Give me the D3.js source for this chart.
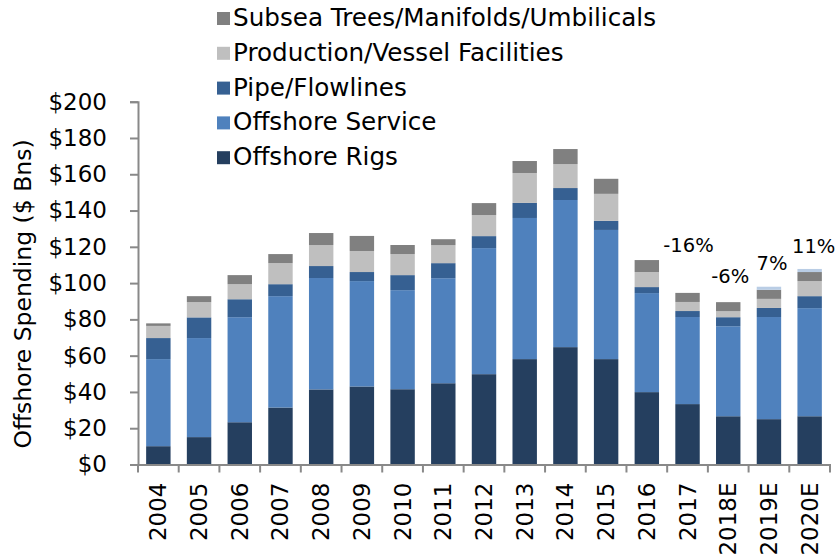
<!DOCTYPE html>
<html>
<head>
<meta charset="utf-8">
<script src="https://cdn.jsdelivr.net/npm/d3@7"></script>
<style>
  html, body { margin: 0; padding: 0; background: #fff; }
  svg { display: block; }
  text { font-family: "DejaVu Sans", Verdana, sans-serif; fill: #000; }
</style>
</head>
<body>
<svg id="chart" width="835" height="559"></svg>
<script>
// ---- data ----
const categories = ["2004","2005","2006","2007","2008","2009","2010","2011","2012","2013","2014","2015","2016","2017","2018E","2019E","2020E"];
const offshoreRigs     = [10.1, 15.1, 23.3, 31.4, 41.4, 43.0, 41.5, 44.8, 49.8, 58.1, 64.7, 58.1, 39.9, 33.3, 26.6, 25.0, 26.6];
const offshoreService  = [48.0, 54.6, 57.9, 61.4, 61.4, 58.1, 54.6, 57.9, 69.5, 77.8, 81.1, 71.2, 54.6, 48.0, 49.6, 56.3, 59.6];
const pipeFlowlines    = [11.6, 11.4, 9.9, 6.6, 6.6, 5.0, 8.3, 8.3, 6.6, 8.3, 6.6, 5.0, 3.3, 3.3, 5.0, 5.0, 6.6];
const productionVessel = [6.7, 8.4, 8.3, 11.6, 11.6, 11.6, 11.6, 9.9, 11.6, 16.5, 13.2, 14.9, 8.3, 5.0, 3.3, 5.0, 8.3];
const subseaTrees      = [1.4, 3.3, 5.0, 5.0, 6.6, 8.3, 5.0, 3.3, 6.6, 6.6, 8.3, 8.3, 6.6, 5.0, 5.0, 5.0, 5.0];
const otherCap         = [0, 0, 0, 0, 0, 0, 0, 0, 0, 0, 0, 0, 0, 0, 0, 1.7, 1.7];
const yTicks = [0, 20, 40, 60, 80, 100, 120, 140, 160, 180, 200];
const growthCats   = ["2017", "2018E", "2019E", "2020E"];
const growthLabels = ["-16%", "-6%", "7%", "11%"];

// ---- layout / style ----
const growthDx = [1, 2, 3, 4];
const growthDy = [41, 19, 17, 16];
const seriesDefs = [
  { key: "rigs",    name: "Offshore Rigs",                  values: offshoreRigs,     color: "#253f5f", legend: true },
  { key: "service", name: "Offshore Service",               values: offshoreService,  color: "#4f81bd", legend: true },
  { key: "pipe",    name: "Pipe/Flowlines",                 values: pipeFlowlines,    color: "#366092", legend: true },
  { key: "prod",    name: "Production/Vessel Facilities",   values: productionVessel, color: "#bfbfbf", legend: true },
  { key: "subsea",  name: "Subsea Trees/Manifolds/Umbilicals", values: subseaTrees,   color: "#808080", legend: true },
  { key: "other",   name: "Other",                          values: otherCap,         color: "#b9cde5", legend: false }
];

const rows = categories.map((c, i) => {
  const r = { cat: c };
  seriesDefs.forEach(s => r[s.key] = s.values[i]);
  return r;
});

const svg = d3.select("#chart");
const x = d3.scaleBand().domain(categories).range([138, 830]).paddingInner(0.4).paddingOuter(0.2);
const y = d3.scaleLinear().domain([0, 200]).range([464.5, 101.7]);

const stack = d3.stack().keys(seriesDefs.map(s => s.key));
const stacked = stack(rows);

svg.append("g").selectAll("g").data(stacked).join("g")
  .attr("fill", (d, i) => seriesDefs[i].color)
  .selectAll("rect").data(d => d).join("rect")
  .attr("x", d => x(d.data.cat))
  .attr("width", x.bandwidth())
  .attr("y", d => y(d[1]))
  .attr("height", d => Math.max(0, y(d[0]) - y(d[1])));

// axes
const axisColor = "#898989";
// y axis
const yAxis = svg.append("g").attr("transform", "translate(138,0)")
  .call(d3.axisLeft(y).tickValues(yTicks).tickSize(8).tickPadding(23).tickFormat(d => "$" + d));
yAxis.select(".domain").attr("stroke", axisColor).attr("stroke-width", 2);
yAxis.selectAll(".tick line").attr("stroke", axisColor).attr("stroke-width", 2);
yAxis.selectAll(".tick text").attr("font-size", 23).attr("font-family", "DejaVu Sans, Verdana, sans-serif").attr("fill", "#000");

// x axis baseline
const xg = svg.append("g").attr("transform", "translate(0," + y(0) + ")");
xg.append("line").attr("x1", 137).attr("x2", 831).attr("y1", 0.5).attr("y2", 0.5)
  .attr("stroke", axisColor).attr("stroke-width", 2);
const step = x.step();
xg.selectAll("line.tk").data(d3.range(categories.length + 1)).join("line")
  .attr("class", "tk")
  .attr("x1", i => 138 + i * step)
  .attr("x2", i => 138 + i * step)
  .attr("y1", 0).attr("y2", 8)
  .attr("stroke", axisColor).attr("stroke-width", 2);
xg.selectAll("text").data(categories).join("text")
  .attr("transform", d => "translate(" + (x(d) + x.bandwidth() / 2 + 8) + ",18) rotate(-90)")
  .attr("text-anchor", "end")
  .attr("font-size", 23)
  .text(d => d);

// y axis title
svg.append("text")
  .attr("transform", "translate(31,294) rotate(-90)")
  .attr("text-anchor", "middle")
  .attr("font-size", 23.5)
  .text("Offshore Spending ($ Bns)");

// growth labels
const totals = rows.map(r => seriesDefs.reduce((a, s) => a + r[s.key], 0));
svg.append("g").selectAll("text").data(growthLabels).join("text")
  .attr("x", (d, i) => x(growthCats[i]) + x.bandwidth() / 2 + growthDx[i])
  .attr("y", (d, i) => y(totals[categories.indexOf(growthCats[i])]) - growthDy[i])
  .attr("text-anchor", "middle")
  .attr("font-size", 19.5)
  .text(d => d);

// legend (reverse order)
const legendItems = seriesDefs.filter(s => s.legend).slice().reverse();
const lg = svg.append("g");
const items = lg.selectAll("g").data(legendItems).join("g")
  .attr("transform", (d, i) => "translate(0," + (26 + i * 34.8) + ")");
items.append("rect").attr("x", 217).attr("y", -14).attr("width", 13).attr("height", 13)
  .attr("fill", d => d.color);
const lt = items.append("text").attr("x", 233).attr("y", 0).attr("font-size", 24).text(d => d.name);
// compress horizontally to match reference width
const firstW = lt.nodes()[0].getComputedTextLength();
const factor = 423 / firstW;
lt.each(function() {
  const w = this.getComputedTextLength();
  d3.select(this).attr("textLength", w * factor).attr("lengthAdjust", "spacingAndGlyphs");
});
</script>
</body>
</html>
